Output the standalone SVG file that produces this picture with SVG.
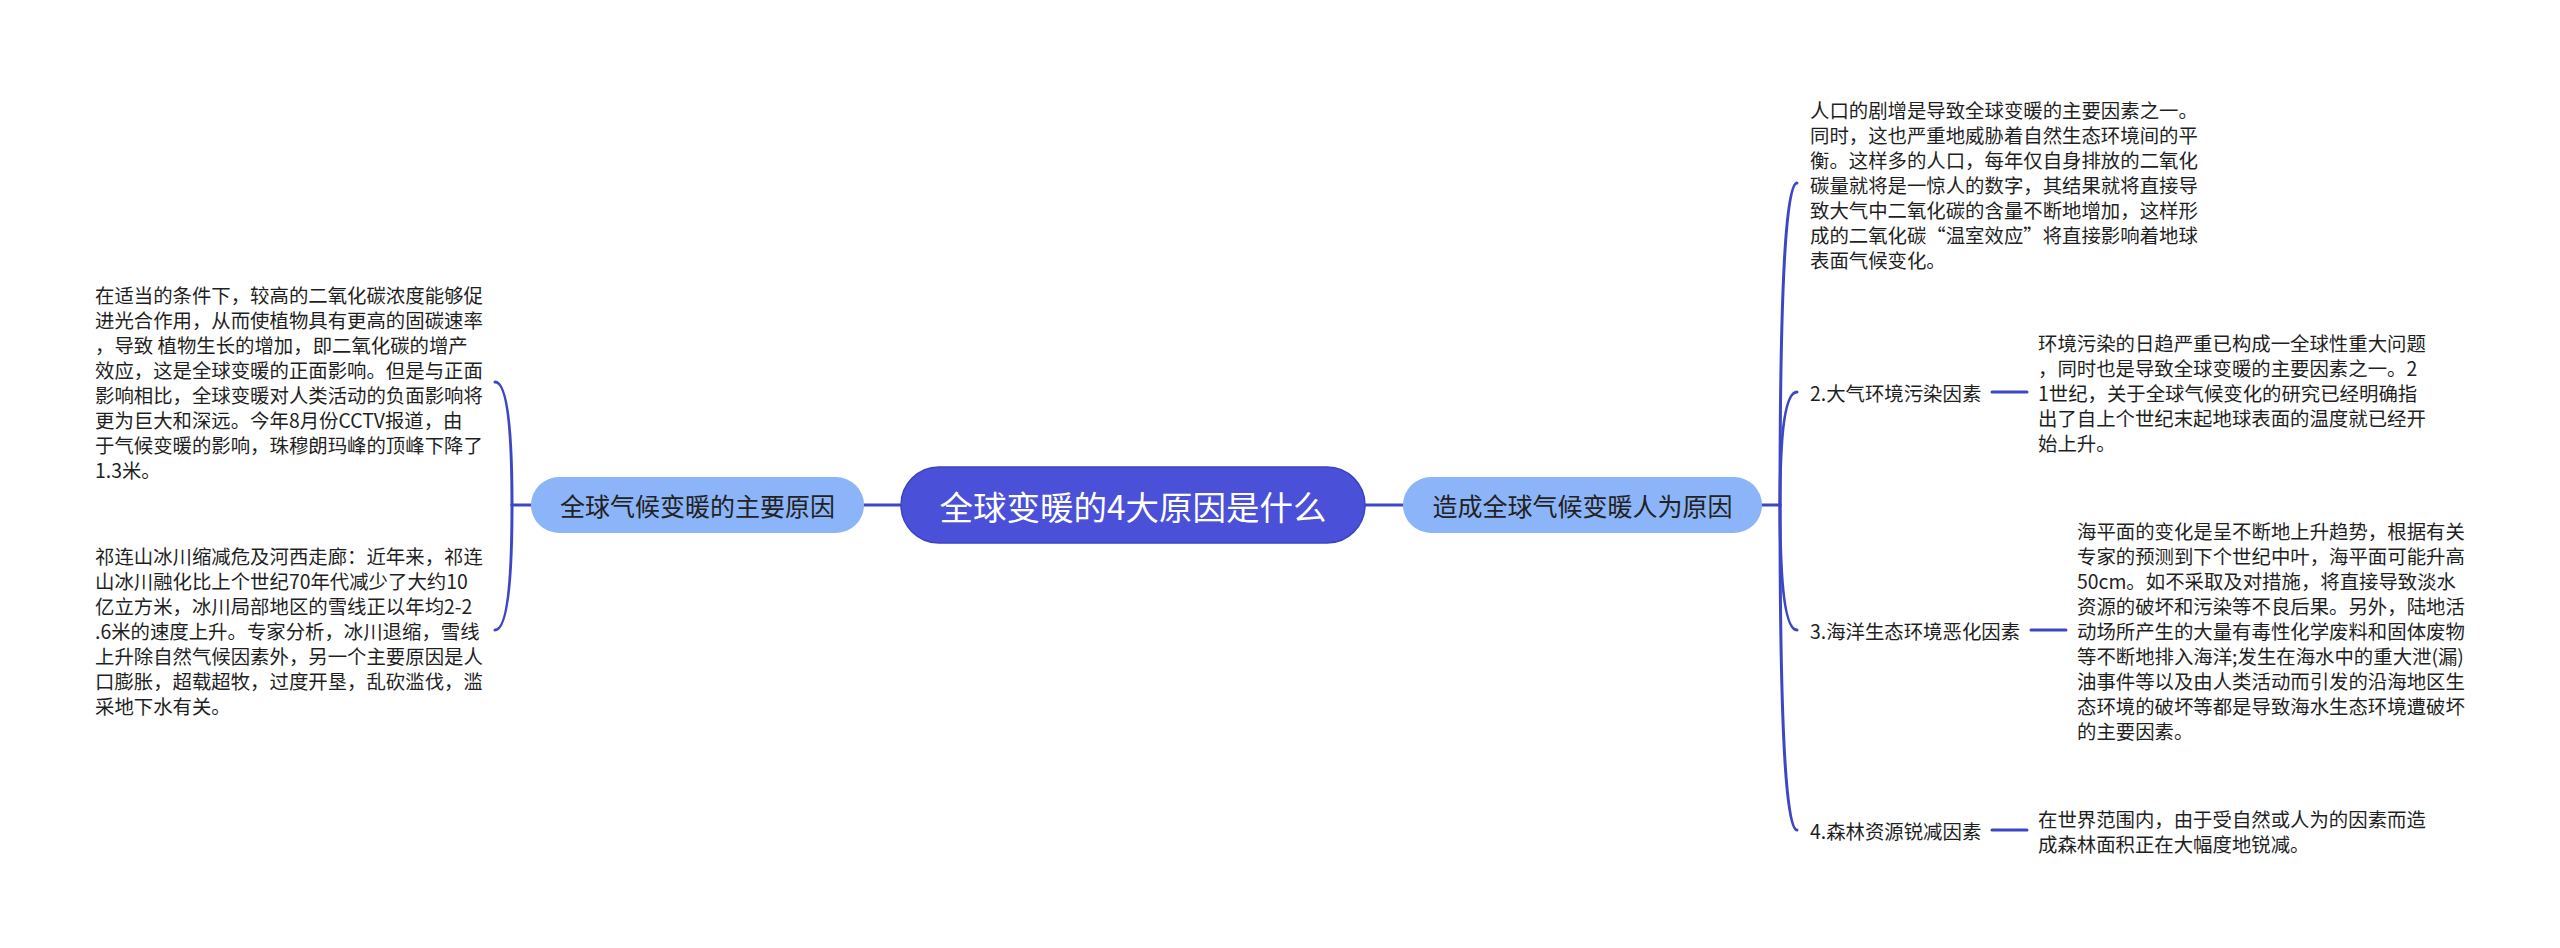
<svg xmlns="http://www.w3.org/2000/svg" width="2560" height="948" viewBox="0 0 2560 948">
<style>
.t{font-family:"Noto Sans CJK SC","Noto Sans",sans-serif;font-size:19.4px;fill:#1f1f1f;dominant-baseline:central}
.lbl{font-family:"Noto Sans CJK SC","Noto Sans",sans-serif;font-size:19.4px;fill:#1f1f1f;dominant-baseline:central}
.sub{font-family:"Noto Sans CJK SC","Noto Sans",sans-serif;font-size:25px;fill:#222;text-anchor:middle;dominant-baseline:central}
.root{font-family:"Noto Sans CJK SC","Noto Sans",sans-serif;font-size:33.5px;fill:#fff;text-anchor:middle;dominant-baseline:central}
.c{fill:none;stroke:#3d46c6;stroke-width:3;stroke-linecap:round}
</style>
<rect width="2560" height="948" fill="#fff"/>
<g id="connectors">
<path class="c" d="M864 505 L901 505"/>
<path class="c" d="M1365 505 L1403 505"/>
<path class="c" d="M531 505 L512 505"/>
<path class="c" d="M512 505 Q512 382 495 382"/>
<path class="c" d="M512 505 Q512 630 495 630"/>
<path class="c" d="M1762 505 L1780 505"/>
<path class="c" d="M1780 505 Q1780 183 1797 183"/>
<path class="c" d="M1780 505 Q1780 392 1797 392"/>
<path class="c" d="M1780 505 Q1780 630 1797 630"/>
<path class="c" d="M1780 505 Q1780 830 1797 830"/>
<path class="c" d="M1992 392 L2027 392"/>
<path class="c" d="M2031 630 L2066 630"/>
<path class="c" d="M1992 830 L2027 830"/>
</g>
<g id="root">
<rect x="901" y="467" width="464" height="76" rx="38" fill="#4a50d7" stroke="#3c43c4" stroke-width="1.5"/>
<text class="root" x="1133" y="505">全球变暖的4大原因是什么</text>
</g>
<g id="left-main">
<rect x="531" y="477" width="333" height="56" rx="28" fill="#8cb4f8"/>
<text class="sub" x="697.5" y="505">全球气候变暖的主要原因</text>
</g>
<g id="right-main">
<rect x="1403" y="477" width="359" height="56" rx="28" fill="#8cb4f8"/>
<text class="sub" x="1582.5" y="505">造成全球气候变暖人为原因</text>
</g>
<g id="left-text-1">
<text class="t">
<tspan x="95" y="294">在适当的条件下，较高的二氧化碳浓度能够促</tspan>
<tspan x="95" y="319">进光合作用，从而使植物具有更高的固碳速率</tspan>
<tspan x="95" y="344">，导致 植物生长的增加，即二氧化碳的增产</tspan>
<tspan x="95" y="369">效应，这是全球变暖的正面影响。但是与正面</tspan>
<tspan x="95" y="394">影响相比，全球变暖对人类活动的负面影响将</tspan>
<tspan x="95" y="419">更为巨大和深远。今年8月份CCTV报道，由</tspan>
<tspan x="95" y="444">于气候变暖的影响，珠穆朗玛峰的顶峰下降了</tspan>
<tspan x="95" y="469">1.3米。</tspan>
</text>
</g>
<g id="left-text-2">
<text class="t">
<tspan x="95" y="555">祁连山冰川缩减危及河西走廊：近年来，祁连</tspan>
<tspan x="95" y="580">山冰川融化比上个世纪70年代减少了大约10</tspan>
<tspan x="95" y="605">亿立方米，冰川局部地区的雪线正以年均2-2</tspan>
<tspan x="95" y="630">.6米的速度上升。专家分析，冰川退缩，雪线</tspan>
<tspan x="95" y="655">上升除自然气候因素外，另一个主要原因是人</tspan>
<tspan x="95" y="680">口膨胀，超载超牧，过度开垦，乱砍滥伐，滥</tspan>
<tspan x="95" y="705">采地下水有关。</tspan>
</text>
</g>
<g id="right-text-1">
<text class="t">
<tspan x="1810" y="108.5">人口的剧增是导致全球变暖的主要因素之一。</tspan>
<tspan x="1810" y="133.5">同时，这也严重地威胁着自然生态环境间的平</tspan>
<tspan x="1810" y="158.5">衡。这样多的人口，每年仅自身排放的二氧化</tspan>
<tspan x="1810" y="183.5">碳量就将是一惊人的数字，其结果就将直接导</tspan>
<tspan x="1810" y="208.5">致大气中二氧化碳的含量不断地增加，这样形</tspan>
<tspan x="1810" y="233.5">成的二氧化碳“温室效应”将直接影响着地球</tspan>
<tspan x="1810" y="258.5">表面气候变化。</tspan>
</text>
</g>
<g id="label-2">
<text class="lbl" x="1810" y="392">2.大气环境污染因素</text>
</g>
<g id="right-text-2">
<text class="t">
<tspan x="2038" y="342">环境污染的日趋严重已构成一全球性重大问题</tspan>
<tspan x="2038" y="367">，同时也是导致全球变暖的主要因素之一。2</tspan>
<tspan x="2038" y="392">1世纪，关于全球气候变化的研究已经明确指</tspan>
<tspan x="2038" y="417">出了自上个世纪末起地球表面的温度就已经开</tspan>
<tspan x="2038" y="442">始上升。</tspan>
</text>
</g>
<g id="label-3">
<text class="lbl" x="1810" y="630">3.海洋生态环境恶化因素</text>
</g>
<g id="right-text-3">
<text class="t">
<tspan x="2077" y="530">海平面的变化是呈不断地上升趋势，根据有关</tspan>
<tspan x="2077" y="555">专家的预测到下个世纪中叶，海平面可能升高</tspan>
<tspan x="2077" y="580">50cm。如不采取及对措施，将直接导致淡水</tspan>
<tspan x="2077" y="605">资源的破坏和污染等不良后果。另外，陆地活</tspan>
<tspan x="2077" y="630">动场所产生的大量有毒性化学废料和固体废物</tspan>
<tspan x="2077" y="655">等不断地排入海洋;发生在海水中的重大泄(漏)</tspan>
<tspan x="2077" y="680">油事件等以及由人类活动而引发的沿海地区生</tspan>
<tspan x="2077" y="705">态环境的破坏等都是导致海水生态环境遭破坏</tspan>
<tspan x="2077" y="730">的主要因素。</tspan>
</text>
</g>
<g id="label-4">
<text class="lbl" x="1810" y="830">4.森林资源锐减因素</text>
</g>
<g id="right-text-4">
<text class="t">
<tspan x="2038" y="817.5">在世界范围内，由于受自然或人为的因素而造</tspan>
<tspan x="2038" y="842.5">成森林面积正在大幅度地锐减。</tspan>
</text>
</g>
</svg>
